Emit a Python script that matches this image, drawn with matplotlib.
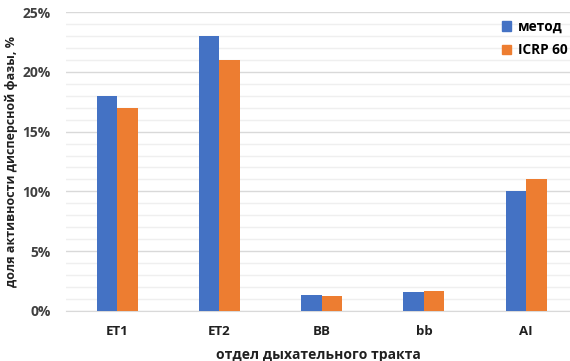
import matplotlib
matplotlib.use("Agg")
import matplotlib.pyplot as plt
import numpy as np
from matplotlib.ticker import MultipleLocator, FuncFormatter
from matplotlib.patches import Patch

categories = ["ET1", "ET2", "BB", "bb", "AI"]
method_vals = [18.0, 23.0, 1.33, 1.6, 10.0]
icrp_vals = [17.0, 21.0, 1.25, 1.7, 11.0]
series_names = ["метод", "ICRP 60"]
colors = ["#4472C4", "#ED7D31"]

plt.rcParams["font.family"] = ["Open Sans", "DejaVu Sans"]
plt.rcParams["font.weight"] = "bold"

fig = plt.figure(figsize=(5.7, 3.61), dpi=100)
ax = fig.add_axes([66 / 570, 1 - 311 / 361, (570 - 66) / 570, (311 - 12) / 361])

x = np.arange(len(categories))
w = 0.2
ax.bar(x - w / 2, method_vals, w, color=colors[0], zorder=3)
ax.bar(x + w / 2, icrp_vals, w, color=colors[1], zorder=3)

ax.set_ylim(0, 25)
ax.set_xlim(-0.5, (570 - 66) / 102.25 - 0.5)
ax.yaxis.set_major_locator(MultipleLocator(5))
ax.yaxis.set_minor_locator(MultipleLocator(1))
ax.yaxis.set_major_formatter(FuncFormatter(lambda v, p: f"{v:.0f}%"))
ax.grid(axis="y", which="major", color="#d9d9d9", linewidth=1, zorder=0)
ax.grid(axis="y", which="minor", color="#efefef", linewidth=1, zorder=0)

for s in ["top", "right", "left"]:
    ax.spines[s].set_visible(False)
ax.spines["bottom"].set_color("#d9d9d9")
ax.tick_params(axis="both", which="both", length=0)
ax.tick_params(axis="y", pad=11, labelsize=10, labelcolor="#404040")
ax.tick_params(axis="x", pad=10, labelsize=9.5, labelcolor="#202020")
ax.set_xticks(x)
ax.set_xticklabels(categories, fontweight="bold")
for lbl in ax.get_yticklabels():
    lbl.set_fontweight("bold")

ax.set_xlabel("отдел дыхательного тракта", fontsize=10, fontweight="bold", labelpad=7, color="#202020")
ax.set_ylabel("доля активности дисперсной фазы, %", fontsize=9, fontweight="bold", color="#202020")
ax.yaxis.set_label_coords(-48 / 504, 0.5)

handles = [Patch(color=c) for c in colors]
leg = ax.legend(handles, series_names, loc="upper right", bbox_to_anchor=(1.02, 1.015),
                frameon=False, handlelength=0.7, handleheight=0.7, handletextpad=0.5,
                labelspacing=0.7, prop={"weight": "bold", "size": 9.8})

fig.savefig("out.png", dpi=100, facecolor="white")
